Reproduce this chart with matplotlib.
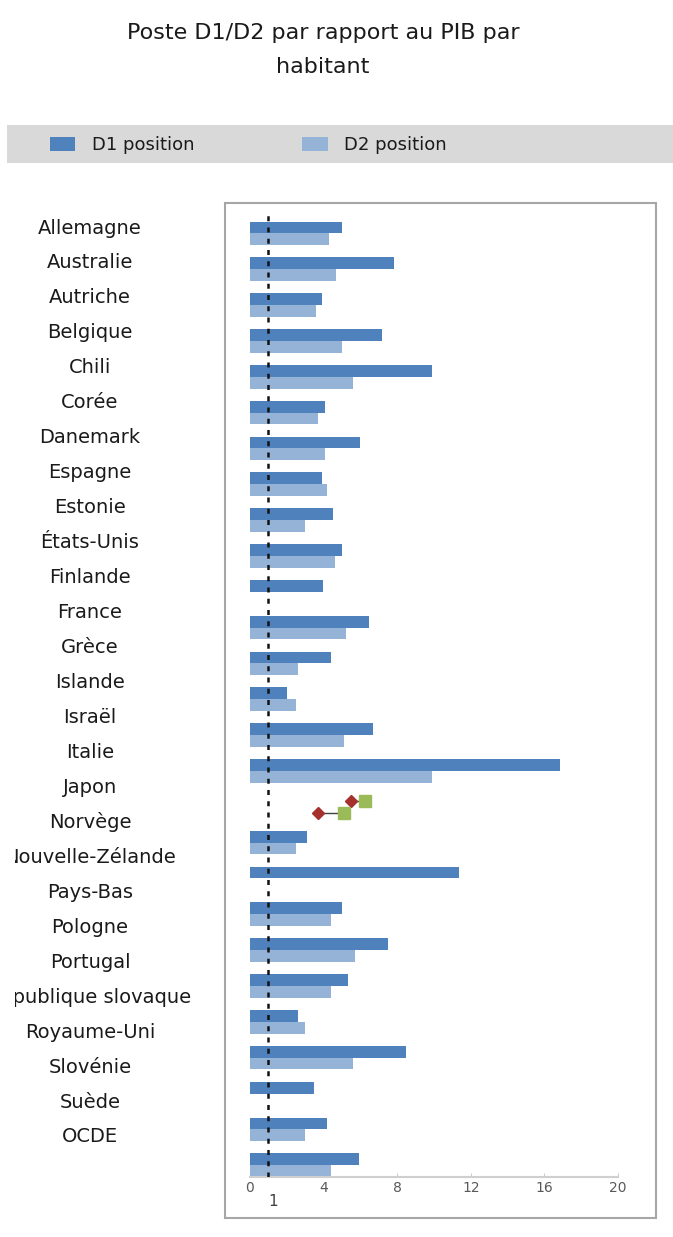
import numpy as np
import matplotlib
matplotlib.use("Agg")
import matplotlib.pyplot as plt
from matplotlib.patches import Rectangle
from matplotlib.transforms import blended_transform_factory

# --- Données ---
pays = ["Allemagne", "Australie", "Autriche", "Belgique", "Chili", "Corée",
        "Danemark", "Espagne", "Estonie", "États-Unis", "Finlande", "France",
        "Grèce", "Islande", "Israël", "Italie", "Japon", "Norvège",
        "Nouvelle-Zélande", "Pays-Bas", "Pologne", "Portugal",
        "République slovaque", "Royaume-Uni", "Slovénie", "Suède", "OCDE"]
nan = np.nan
d1 = [5.0, 7.8, 3.9, 7.15, 9.9, 4.1, 6.0, 3.9, 4.5, 5.0, 3.95, 6.45,
      4.4, 2.0, 6.7, 16.85, nan, 3.1, 11.35, 5.0, 7.5, 5.3,
      2.6, 8.5, 3.5, 4.2, 5.9]
d2 = [4.3, 4.7, 3.6, 5.0, 5.6, 3.7, 4.1, 4.2, 3.0, 4.6, nan, 5.2,
      2.6, 2.5, 5.1, 9.9, nan, 2.5, nan, 4.4, 5.7, 4.4,
      3.0, 5.6, nan, 3.0, 4.4]
# Japon : fourchettes (losange -> carré)
japon_d1 = [5.5, 6.25]
japon_d2 = [3.7, 5.1]
ref_val = 1
xticks = [0, 4, 8, 12, 16, 20]

W, H = 673, 1237
fig = plt.figure(figsize=(W / 100, H / 100), dpi=100)
fig.patch.set_facecolor("white")

def fx(px):
    return px / W

def fy(py):
    return 1 - py / H

# --- Titre ---
fig.text(fx(323), fy(50), "Poste D1/D2 par rapport au PIB par\nhabitant",
         ha="center", va="center", fontsize=16, color="#1a1a1a",
         linespacing=1.9)

# --- Bande de légende ---
fig.patches.append(Rectangle((fx(7), fy(163)), fx(666), 38 / H,
                             transform=fig.transFigure, facecolor="#d9d9d9",
                             edgecolor="none", zorder=-2))

# --- Cadre du graphique ---
fig.patches.append(Rectangle((fx(225), fy(1218)), fx(431), (1218 - 203) / H,
                             transform=fig.transFigure, facecolor="white",
                             edgecolor="#a6a6a6", linewidth=1.5, zorder=-2))

# --- Barres ---
ax = fig.add_axes([fx(250), fy(1177), fx(368), (1177 - 213) / H])
ax.set_facecolor("none")
y = np.arange(len(pays))
h = 0.33
b1 = ax.barh(y - h / 2, d1, height=h, color="#4F81BD", label="D1 position", zorder=2)
b2 = ax.barh(y + h / 2, d2, height=h, color="#95B3D7", label="D2 position", zorder=2)

j = pays.index("Japon")
for vals, dy in [(japon_d1, -h / 2), (japon_d2, h / 2)]:
    ax.plot(vals, [j + dy] * 2, color="#404040", lw=1, zorder=3)
    ax.plot(vals[0], j + dy, marker="D", ms=6, color="#A5302C", zorder=4)
    ax.plot(vals[1], j + dy, marker="s", ms=8, color="#9BBB59", zorder=4)

ax.axvline(ref_val, color="#111111", lw=1.8, ls=(0, (2, 2.5)), zorder=5)

ax.set_xlim(0, 20)
ax.set_ylim(26.33, -0.57)
ax.set_xticks(xticks)
ax.set_yticks([])
for s in ["top", "right", "left"]:
    ax.spines[s].set_visible(False)
ax.spines["bottom"].set_color("#cfcfcf")
ax.spines["bottom"].set_linewidth(1.5)
ax.tick_params(axis="x", direction="in", length=3, color="#d0d0d0",
               labelsize=10, labelcolor="#595959", pad=3)
trans = blended_transform_factory(ax.transData, ax.transAxes)
ax.text(ref_val, -0.018, "1", transform=trans, ha="left", va="top",
        fontsize=11, color="#404040")

# --- Libellés des pays ---
axl = fig.add_axes([fx(15), fy(1230), fx(200), (1230 - 190) / H])
axl.axis("off")
axl.set_xlim(15, 215)
y0, y26 = 228, 1137
axl.set_ylim(1230, 190)
for i, p in enumerate(pays):
    axl.text(90, y0 + i * (y26 - y0) / 26, p, ha="center", va="center",
             fontsize=14, color="#1a1a1a", clip_on=True)

# --- Légende ---
fig.legend(handles=[b1, b2], loc="center left",
           bbox_to_anchor=(fx(41), fy(145)), ncol=2, frameon=False,
           fontsize=13, handlelength=1.4, handleheight=0.8,
           handletextpad=0.9, columnspacing=6.0, borderpad=0,
           labelcolor="#1a1a1a")

fig.savefig("out.png", dpi=100, facecolor="white")
